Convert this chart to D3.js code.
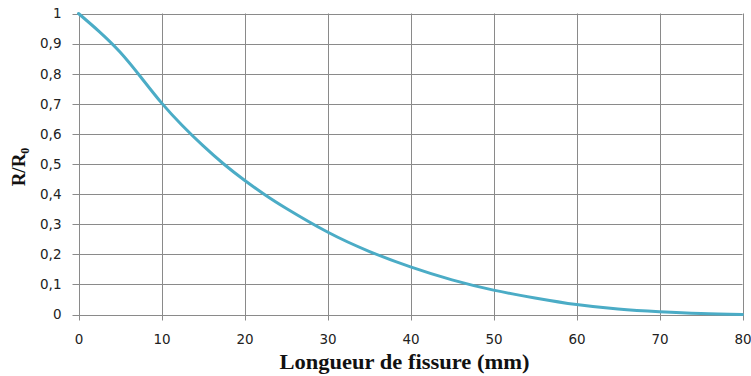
<!DOCTYPE html>
<html><head><meta charset="utf-8">
<script src="https://cdn.jsdelivr.net/npm/d3@7"></script>
<style>body{margin:0;background:#fff}svg{display:block}</style>
</head><body>
<script>
const crackLength = [0, 2.5, 5, 7.5, 10, 12.5, 15, 17.5, 20, 22.5, 25, 30, 35, 40, 45, 50, 55, 60, 65, 70, 75, 80];
const ratio = [1.0, 0.94, 0.872, 0.789, 0.703, 0.628, 0.561, 0.5, 0.446, 0.397, 0.353, 0.274, 0.21, 0.158, 0.115, 0.081, 0.055, 0.033, 0.018, 0.009, 0.003, 0.0];
const xTicks = [0, 10, 20, 30, 40, 50, 60, 70, 80];
const yTicks = [0, 0.1, 0.2, 0.3, 0.4, 0.5, 0.6, 0.7, 0.8, 0.9, 1];
const xTitle = "Longueur de fissure (mm)";

const W = 751, H = 376;
const m = {left: 78.5, right: W - 742.5, top: 13.5, bottom: H - 314.5};
const svg = d3.select("body").append("svg").attr("width", W).attr("height", H);
const x = d3.scaleLinear().domain([0, 80]).range([m.left, W - m.right]);
const y = d3.scaleLinear().domain([0, 1]).range([H - m.bottom, m.top]);
const grid = "#8a8a8a";
const fmt = d => String(d3.format(".1~f")(d)).replace(".", ",");

svg.append("g").selectAll("line").data(yTicks).join("line")
  .attr("x1", m.left - 6).attr("x2", W - m.right)
  .attr("y1", d => Math.round(y(d)) + 0.5).attr("y2", d => Math.round(y(d)) + 0.5)
  .attr("stroke", grid).attr("stroke-width", 1);
svg.append("g").selectAll("line").data(xTicks).join("line")
  .attr("y1", m.top).attr("y2", H - m.bottom + 6)
  .attr("x1", d => Math.round(x(d)) + 0.5).attr("x2", d => Math.round(x(d)) + 0.5)
  .attr("stroke", grid).attr("stroke-width", 1);

const yAxis = svg.append("g").attr("transform", `translate(${m.left},0)`)
  .call(d3.axisLeft(y).tickValues(yTicks).tickFormat(fmt).tickSize(0).tickPadding(17));
const xAxis = svg.append("g").attr("transform", `translate(0,${H - m.bottom})`)
  .call(d3.axisBottom(x).tickValues(xTicks).tickFormat(d => d).tickSize(0).tickPadding(20));
[yAxis, xAxis].forEach(a => {
  a.select(".domain").remove();
  a.selectAll("text").attr("font-family", "DejaVu Sans, Verdana, sans-serif")
    .attr("font-size", 13.5).attr("fill", "#222");
});

const line = d3.line().x((d, i) => x(crackLength[i])).y(d => y(d)).curve(d3.curveNatural);
svg.append("path").datum(ratio).attr("d", line)
  .attr("fill", "none").attr("stroke", "#4bacc6").attr("stroke-width", 3)
  .attr("stroke-linejoin", "round").attr("stroke-linecap", "round");

svg.append("text").attr("x", 404.5).attr("y", 369).attr("text-anchor", "middle")
  .attr("font-family", "Liberation Serif, Times New Roman, serif").attr("font-weight", "bold")
  .attr("font-size", 21).attr("fill", "#111")
  .attr("textLength", 250).attr("lengthAdjust", "spacingAndGlyphs").text(xTitle);

const yt = svg.append("text").attr("transform", "translate(25,167) rotate(-90)")
  .attr("text-anchor", "middle")
  .attr("font-family", "Liberation Serif, Times New Roman, serif").attr("font-weight", "bold")
  .attr("font-size", 19).attr("fill", "#111");
yt.append("tspan").text("R/R");
yt.append("tspan").attr("font-size", 12).attr("dy", 4).text("0");
</script>
</body></html>
